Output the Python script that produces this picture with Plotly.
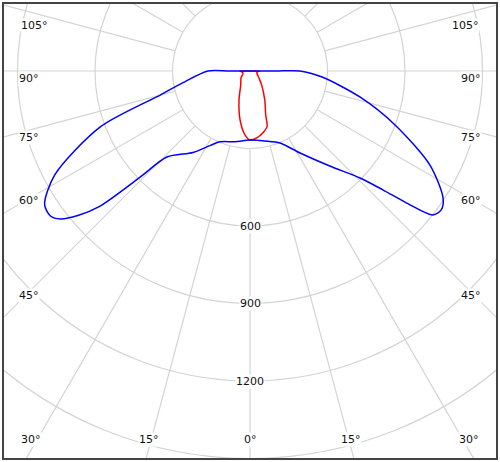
import numpy as np
import plotly.graph_objects as go

# Blue curve (C90-C270 plane): angle from nadir in degrees (negative = left), intensity
blue_angles = [-90, -80, -75, -69.5, -62, -57, -54, -52, -50, -48, -46, -44, -35, -28, -23, -12, 0,
               12, 22.6, 31.4, 40, 45.8, 48.2, 50, 51.8, 54, 56.7, 62.4, 69.6, 76.7, 85.2, 90, 90, 90, -90, -90]
blue_values = [163, 265, 360, 620, 856, 948, 955, 930, 870, 783, 593, 463, 385, 326, 298, 280, 267,
               277, 302, 372, 480, 594, 690, 800, 901, 915, 894, 786, 599, 437, 280, 194, 100, 0, 80, 163]

# Red curve (C0-C180 plane)
red_angles = [-90, -74, -52, -33.6, -20.8, -11.5, -4.5, 0, 8, 16.9, 19.6, 27, 40, 52, 80, 90, 90, -90, -90]
red_values = [39, 28, 44, 65, 120, 193, 248, 267, 255, 226, 181, 126, 70, 44, 27, 39, 0, 20, 39]

grid_radii = [300, 600, 900, 1200, 1500, 1800]
radial_labels = ["600", "900", "1200"]
radial_label_values = [600, 900, 1200]

left_angle_labels = ["105°", "90°", "75°", "60°", "45°", "30°"]
left_label_px = [(20, 18), (18, 71), (18, 130), (18, 200), (18, 295), (20, 447)]
bottom_labels = ["15°", "0°", "15°"]
bottom_label_px = [(138, 447), (250, 447), (362, 447)]

W, H = 500, 462
cx, cy = 250, 71
scale = 77.5 / 300.0
L, R, T, B = 3, 3, 3, 3

xr = [-(cx - L) / scale, (W - R - cx) / scale]
yr = [-(H - B - cy) / scale, (cy - T) / scale]


def xy(angles, vals):
    a = np.radians(np.array(angles, dtype=float))
    v = np.array(vals, dtype=float)
    return v * np.sin(a), -v * np.cos(a)


fig = go.Figure()
grid_col = "#d4d4d4"
shapes = []
for r in grid_radii:
    shapes.append(dict(type="circle", xref="x", yref="y", x0=-r, x1=r, y0=-r, y1=r,
                       line=dict(color=grid_col, width=1.2), layer="below"))
for ang in range(0, 360, 15):
    a = np.radians(ang)
    shapes.append(dict(type="line", xref="x", yref="y",
                       x0=300 * np.sin(a), y0=-300 * np.cos(a),
                       x1=3000 * np.sin(a), y1=-3000 * np.cos(a),
                       line=dict(color=grid_col, width=1.2), layer="below"))
shapes.append(dict(type="rect", xref="paper", yref="paper", x0=0, x1=1, y0=0, y1=1,
                   line=dict(color="#444444", width=2)))

bx, by = xy(blue_angles, blue_values)
rx, ry = xy(red_angles, red_values)
fig.add_trace(go.Scatter(x=rx, y=ry, mode="lines", line=dict(color="#ff0000", width=1.5, shape="spline", smoothing=0.8),
                         hoverinfo="skip"))
fig.add_trace(go.Scatter(x=bx, y=by, mode="lines", line=dict(color="#0000ff", width=1.5, shape="spline", smoothing=0.8),
                         hoverinfo="skip"))

ann = []
fnt = dict(family="DejaVu Sans", size=11, color="#111111")
for t, v in zip(radial_labels, radial_label_values):
    ann.append(dict(x=0, y=-v, xref="x", yref="y", text=t, showarrow=False, font=fnt,
                    bgcolor="white", borderpad=0))


def paper(px, py):
    return (px - L) / (W - L - R), 1 - (py - T) / (H - T - B)


for t, (px, py) in zip(left_angle_labels, left_label_px):
    for x_ in (px, W - px):
        xp, yp = paper(x_, py)
        ann.append(dict(x=xp, y=yp, xref="paper", yref="paper", text=t, showarrow=False,
                        font=fnt, bgcolor="white", borderpad=0))
for t, (px, py) in zip(bottom_labels, bottom_label_px):
    xp, yp = paper(px, py)
    ann.append(dict(x=xp, y=yp, xref="paper", yref="paper", text=t, showarrow=False,
                    font=fnt, bgcolor="white", borderpad=0))

fig.update_layout(
    width=W, height=H, margin=dict(l=L, r=R, t=T, b=B),
    paper_bgcolor="white", plot_bgcolor="white", showlegend=False,
    xaxis=dict(range=xr, visible=False, fixedrange=True),
    yaxis=dict(range=yr, visible=False, fixedrange=True),
    shapes=shapes, annotations=ann,
)
fig.write_html("out.html", config={"displayModeBar": False},
               post_script="document.body.style.margin='0';document.body.style.overflow='hidden';")
